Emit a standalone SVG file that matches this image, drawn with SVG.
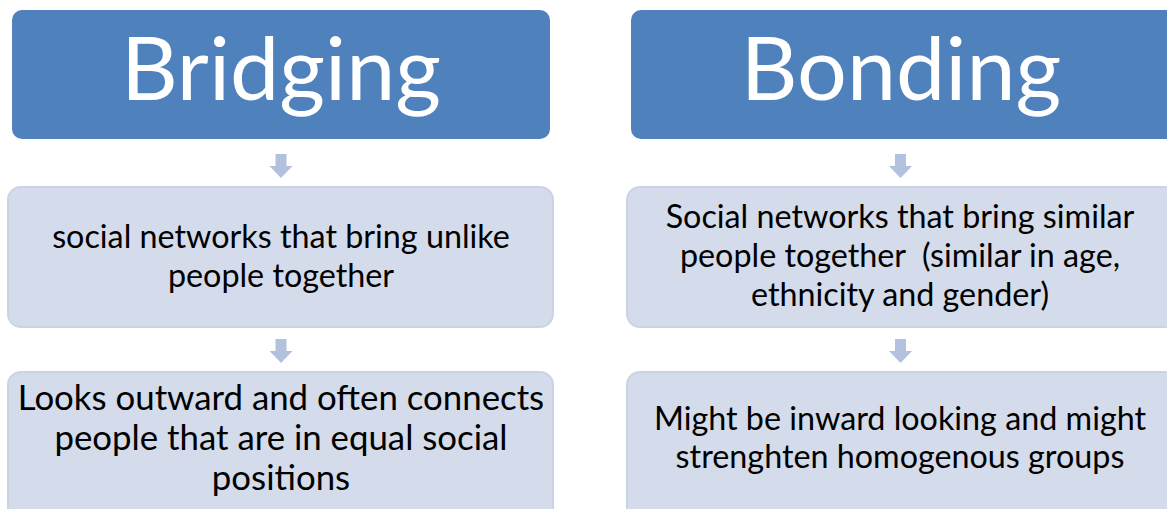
<svg xmlns="http://www.w3.org/2000/svg" width="1167" height="509" viewBox="0 0 1167 509">
<defs>
<style>
.hdr{fill:#4F81BD;}
.box{fill:#D4DBEA;stroke:#CBD4E7;stroke-width:2;}
.arr{fill:#B2C1DD;}
.ht{font-family:Lato,"Open Sans",sans-serif;font-size:88px;fill:#FFFFFF;text-anchor:middle;}
.bt{font-family:Lato,"Open Sans",sans-serif;font-size:32.3px;fill:#000000;text-anchor:middle;}
.bl{font-size:34.8px;}
</style>
</defs>
<rect width="1167" height="509" fill="#FFFFFF"/>
<g id="connectors">
<path class="arr" d="M275.5,154 H286.5 V166 H292.5 L281,178 L269.5,166 H275.5 Z"/>
<path class="arr" d="M275.5,339 H286.5 V351 H292.5 L281,363 L269.5,351 H275.5 Z"/>
<path class="arr" d="M895,154 H906 V166 H912 L900.5,178 L889,166 H895 Z"/>
<path class="arr" d="M895,339 H906 V351 H912 L900.5,363 L889,351 H895 Z"/>
</g>
<g id="bridging">
<rect class="hdr" x="12" y="10" width="538" height="129" rx="10"/>
<text class="ht" x="281" y="100">Bridging</text>
</g>
<g id="bridging-1">
<rect class="box" x="8" y="187" width="545" height="140" rx="13"/>
<text class="bt" x="281" y="248">social networks that bring unlike</text>
<text class="bt" x="281" y="287">people together</text>
</g>
<g id="bridging-2">
<rect class="box" x="8" y="372" width="545" height="150" rx="13"/>
<text class="bt bl" x="281" y="410">Looks outward and often connects</text>
<text class="bt bl" x="281" y="450">people that are in equal social</text>
<text class="bt bl" x="281" y="490">positions</text>
</g>
<g id="bonding">
<rect class="hdr" x="631" y="10" width="545" height="129" rx="10"/>
<text class="ht" x="901" y="100">Bonding</text>
</g>
<g id="bonding-1">
<rect class="box" x="627" y="187" width="550" height="140" rx="13"/>
<text class="bt" x="900" y="228">Social networks that bring similar</text>
<text class="bt" x="900" y="267" xml:space="preserve">people together  (similar in age,</text>
<text class="bt" x="900" y="306">ethnicity and gender)</text>
</g>
<g id="bonding-2">
<rect class="box" x="627" y="372" width="550" height="150" rx="13"/>
<text class="bt" x="900" y="430">Might be inward looking and might</text>
<text class="bt" x="900" y="468">strenghten homogenous groups</text>
</g>
</svg>
